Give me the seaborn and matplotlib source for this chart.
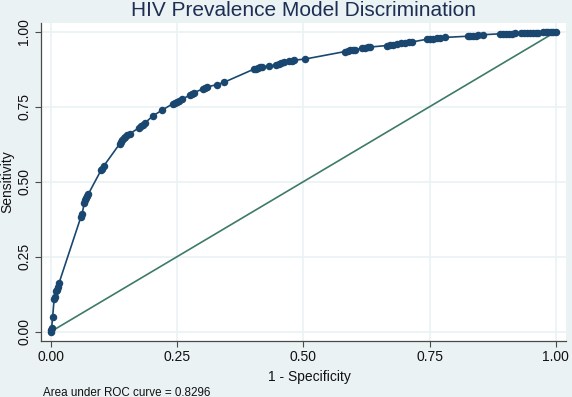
import matplotlib
matplotlib.use("Agg")
import matplotlib.pyplot as plt
import seaborn as sns
import pandas as pd

# ---- data ----
fpr = [0.000, 0.000, 0.002, 0.004, 0.007, 0.008, 0.011, 0.012, 0.014, 0.017,
       0.060, 0.062, 0.067, 0.069, 0.071, 0.073, 0.075,
       0.100, 0.102, 0.105,
       0.137, 0.140, 0.142, 0.145, 0.148, 0.152, 0.157,
       0.175, 0.178, 0.182, 0.186,
       0.203, 0.220,
       0.242, 0.247, 0.251, 0.255, 0.260,
       0.275, 0.279, 0.284,
       0.302, 0.306, 0.310,
       0.330, 0.344,
       0.402, 0.406, 0.410, 0.414, 0.418,
       0.433,
       0.447, 0.452, 0.456, 0.462,
       0.472, 0.477, 0.482,
       0.504,
       0.583, 0.588, 0.593, 0.598, 0.603,
       0.617, 0.622, 0.628, 0.633,
       0.666, 0.672, 0.678, 0.686, 0.694, 0.702, 0.709, 0.716,
       0.745, 0.751, 0.757, 0.764, 0.771, 0.781,
       0.826, 0.831, 0.836, 0.841, 0.846,
       0.856,
       0.890, 0.896, 0.902, 0.908, 0.914, 0.920,
       0.930, 0.936, 0.942, 0.948, 0.954, 0.960, 0.965,
       0.975, 0.980, 0.985, 0.990, 0.995, 1.000]
tpr = [0.000, 0.007, 0.012, 0.049, 0.110, 0.116, 0.135, 0.140, 0.150, 0.164,
       0.383, 0.392, 0.430, 0.438, 0.447, 0.452, 0.460,
       0.539, 0.544, 0.552,
       0.627, 0.634, 0.640, 0.645, 0.650, 0.655, 0.660,
       0.680, 0.685, 0.690, 0.695,
       0.720, 0.738,
       0.760, 0.764, 0.767, 0.770, 0.775,
       0.788, 0.792, 0.797,
       0.810, 0.813, 0.816,
       0.824, 0.832,
       0.875, 0.877, 0.879, 0.881, 0.883,
       0.885,
       0.890, 0.893, 0.895, 0.898,
       0.901, 0.903, 0.905,
       0.909,
       0.934, 0.936, 0.938, 0.939, 0.940,
       0.945, 0.947, 0.948, 0.949,
       0.954, 0.955, 0.957, 0.959, 0.961, 0.963, 0.965, 0.966,
       0.975, 0.976, 0.977, 0.978, 0.979, 0.981,
       0.985, 0.986, 0.986, 0.987, 0.988,
       0.990,
       0.993, 0.993, 0.994, 0.994, 0.994, 0.995,
       0.995, 0.996, 0.996, 0.996, 0.997, 0.997, 0.997,
       0.998, 0.998, 0.999, 0.999, 1.000, 1.000]
ref_x = [0.0, 1.0]
ref_y = [0.0, 1.0]
tick_vals = [0.0, 0.25, 0.5, 0.75, 1.0]
tick_labels = ["0.00", "0.25", "0.50", "0.75", "1.00"]
title = "HIV Prevalence Model Discrimination"
xlabel = "1 - Specificity"
ylabel = "Sensitivity"
note = "Area under ROC curve = 0.8296"

# ---- style ----
sns.set_theme(style="white")
plt.rcParams["font.family"] = ["Liberation Sans", "DejaVu Sans"]

bg = "#EAF2F3"
navy = "#1a476f"
green = "#3d7a68"

fig = plt.figure(figsize=(5.72, 3.97), dpi=100, facecolor=bg)
ax = fig.add_axes([41 / 572, 1 - 340.5 / 397, (566 - 41) / 572, (340.5 - 23) / 397])
ax.set_facecolor("white")

df = pd.DataFrame({"fpr": fpr, "tpr": tpr})
sns.lineplot(data=df, x="fpr", y="tpr", sort=False, estimator=None, ax=ax,
             color=navy, lw=1.2, marker="o", markersize=5.4,
             markeredgewidth=0, zorder=3)
sns.lineplot(x=ref_x, y=ref_y, ax=ax, color=green, lw=1.2, zorder=2)

ax.set_xlim(-0.019, 1.020)
ax.set_ylim(-0.029, 1.029)
ax.set_xticks(tick_vals)
ax.set_xticklabels(tick_labels)
ax.set_yticks(tick_vals)
ax.set_yticklabels(tick_labels, rotation=90, va="center")
ax.grid(True, color=bg, lw=1.2)
ax.set_axisbelow(True)
for s in ["top", "right"]:
    ax.spines[s].set_visible(False)
for s in ["left", "bottom"]:
    ax.spines[s].set_color("#4a4a4a")
    ax.spines[s].set_linewidth(0.9)
ax.tick_params(axis="both", direction="out", length=4, width=0.8,
               color="#4a4a4a", labelsize=10, labelcolor="#111111", pad=3,
               left=True, bottom=True)

ax.set_xlabel(xlabel, fontsize=10, color="#111111")
ax.xaxis.set_label_coords((309 - 41) / 525, -(381 - 340.5) / 317.5)
ax.xaxis.label.set_va("baseline")
ax.set_ylabel(ylabel, fontsize=10, color="#111111", labelpad=2)

fig.text(303.5 / 572, 1 - 15.5 / 397, title, ha="center", va="baseline",
         fontsize=15, color="#1e2d53")
fig.text(43 / 572, 1 - 395.5 / 397, note, ha="left", va="baseline",
         fontsize=8.4, color="#111111")

fig.savefig("out.png", dpi=100, facecolor=bg)
